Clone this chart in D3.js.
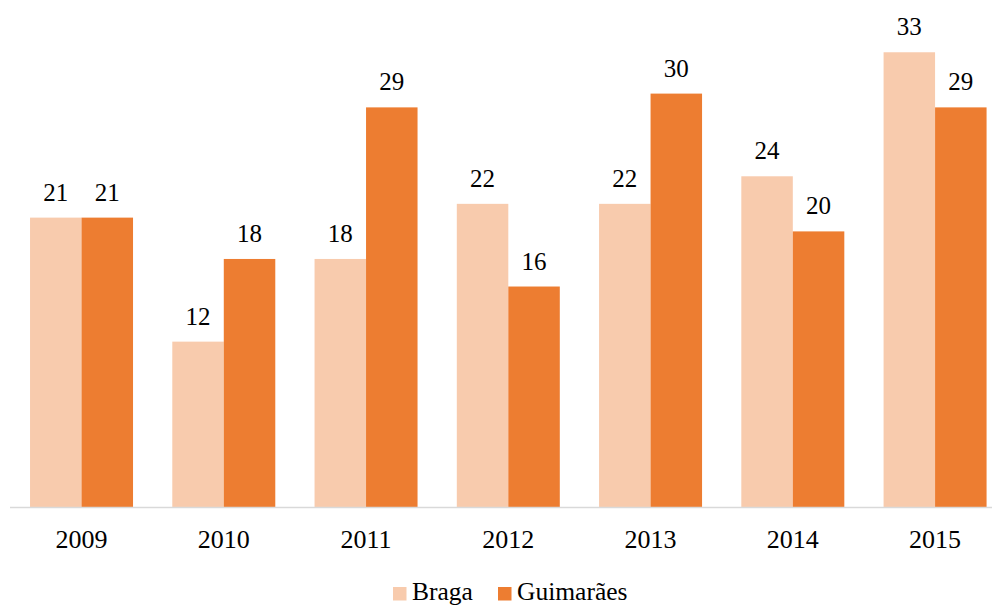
<!DOCTYPE html>
<html>
<head>
<meta charset="utf-8">
<script src="https://cdn.jsdelivr.net/npm/d3@7"></script>
</head>
<body style="margin:0">
<svg id="fig" width="992" height="606"></svg>
<script>
// Yearly counts per city
const years = ["2009", "2010", "2011", "2012", "2013", "2014", "2015"];
const seriesNames = ["Braga", "Guimarães"];
const braga = [21, 12, 18, 22, 22, 24, 33];
const guimaraes = [21, 18, 29, 16, 30, 20, 29];
const colors = ["#F8CBAD", "#ED7D31"];

const SERIF = "'Liberation Serif'";

const seriesValues = [braga, guimaraes];
const rows = years.map((y, i) => ({
  year: y,
  values: seriesNames.map((s, j) => ({ series: s, value: seriesValues[j][i], color: colors[j] }))
}));

const svg = d3.select("#fig");

const x = d3.scaleBand()
  .domain(years)
  .range([10.4, 1006.2])
  .paddingInner(0.276)
  .paddingOuter(0.138);

const xs = d3.scaleBand()
  .domain(seriesNames)
  .range([0, x.bandwidth()])
  .padding(0);

const y = d3.scaleLinear()
  .domain([0, 36])
  .range([507, 507 - 36 * 13.78]);

// Bars
const groups = svg.append("g").selectAll("g")
  .data(rows)
  .join("g")
  .attr("transform", d => `translate(${x(d.year)},0)`);

groups.selectAll("rect")
  .data(d => d.values)
  .join("rect")
  .attr("x", d => xs(d.series))
  .attr("y", d => y(d.value))
  .attr("width", xs.bandwidth())
  .attr("height", d => y(0) - y(d.value))
  .attr("fill", d => d.color);

// Value labels above each bar
groups.selectAll("text.val")
  .data(d => d.values)
  .join("text")
  .attr("class", "val")
  .attr("x", d => xs(d.series) + xs.bandwidth() / 2)
  .attr("y", d => y(d.value) - 17)
  .attr("text-anchor", "middle")
  .attr("fill", "#000")
  .style("font-family", SERIF)
  .style("font-size", "25px")
  .text(d => d.value);

// Category axis
const axis = svg.append("g")
  .attr("transform", `translate(0,${y(0)})`)
  .call(d3.axisBottom(x).tickSize(0).tickPadding(0));
axis.select(".domain")
  .attr("d", "M10,0.5H992")
  .attr("stroke", "#d9d9d9")
  .attr("stroke-width", 1.6);
axis.selectAll(".tick text")
  .attr("y", 41)
  .attr("dy", 0)
  .attr("fill", "#000")
  .style("font-family", SERIF)
  .style("font-size", "26px");

// Legend
const legendItems = [
  { name: seriesNames[0], color: colors[0], x: 393 },
  { name: seriesNames[1], color: colors[1], x: 498 }
];
const li = svg.append("g").selectAll("g").data(legendItems).join("g")
  .attr("transform", d => `translate(${d.x},0)`);
li.append("rect")
  .attr("x", 0).attr("y", 587)
  .attr("width", 13.5).attr("height", 13.5)
  .attr("fill", d => d.color);
li.append("text")
  .attr("x", 19).attr("y", 600)
  .attr("fill", "#000")
  .style("font-family", SERIF)
  .style("font-size", "25.5px")
  .text(d => d.name);
</script>
</body>
</html>
